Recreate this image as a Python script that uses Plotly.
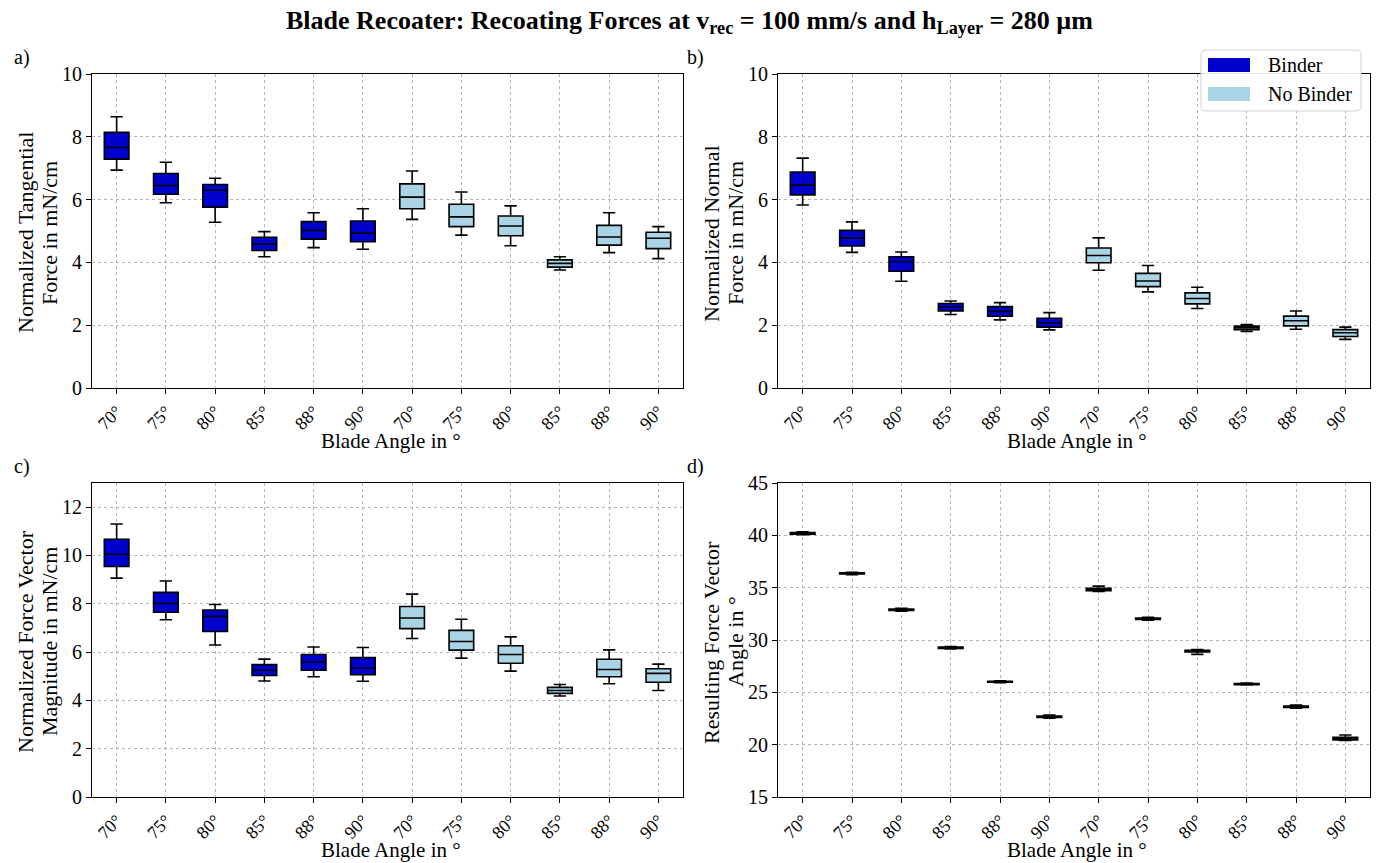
import plotly.graph_objects as go

# ---------------- data ----------------
tick_labels = ["70°", "75°", "80°", "85°", "88°", "90°",
               "70°", "75°", "80°", "85°", "88°", "90°"]
positions = list(range(1, 13))

# panel a: normalized tangential force (mN/cm)
a_lo  = [6.94, 5.90, 5.28, 4.18, 4.47, 4.42, 5.37, 4.87, 4.53, 3.76, 4.31, 4.12]
a_q1  = [7.29, 6.17, 5.76, 4.38, 4.74, 4.66, 5.71, 5.14, 4.85, 3.85, 4.55, 4.44]
a_med = [7.66, 6.45, 6.30, 4.59, 5.02, 4.93, 6.08, 5.45, 5.16, 3.97, 4.81, 4.77]
a_q3  = [8.14, 6.83, 6.48, 4.80, 5.30, 5.32, 6.50, 5.85, 5.48, 4.08, 5.18, 4.96]
a_hi  = [8.64, 7.19, 6.68, 4.98, 5.58, 5.71, 6.91, 6.24, 5.80, 4.18, 5.58, 5.14]

# panel b: normalized normal force (mN/cm)
b_lo  = [5.83, 4.32, 3.40, 2.34, 2.17, 1.85, 3.75, 3.06, 2.53, 1.80, 1.87, 1.55]
b_q1  = [6.15, 4.52, 3.72, 2.45, 2.29, 1.94, 3.99, 3.23, 2.68, 1.86, 1.98, 1.64]
b_med = [6.46, 4.78, 4.02, 2.58, 2.44, 2.08, 4.22, 3.41, 2.85, 1.92, 2.14, 1.76]
b_q3  = [6.88, 5.02, 4.18, 2.69, 2.59, 2.22, 4.46, 3.65, 3.03, 1.97, 2.29, 1.86]
b_hi  = [7.32, 5.29, 4.33, 2.77, 2.72, 2.40, 4.78, 3.90, 3.21, 2.02, 2.45, 1.94]

# panel c: normalized force vector magnitude (mN/cm)
c_lo  = [9.06, 7.34, 6.29, 4.80, 4.98, 4.79, 6.56, 5.75, 5.21, 4.18, 4.69, 4.41]
c_q1  = [9.54, 7.65, 6.85, 5.03, 5.25, 5.06, 6.97, 6.08, 5.54, 4.29, 4.98, 4.75]
c_med = [10.05, 8.01, 7.48, 5.25, 5.59, 5.34, 7.41, 6.44, 5.90, 4.41, 5.28, 5.12]
c_q3  = [10.67, 8.47, 7.74, 5.48, 5.90, 5.77, 7.89, 6.90, 6.26, 4.54, 5.70, 5.31]
c_hi  = [11.30, 8.94, 7.97, 5.71, 6.21, 6.19, 8.40, 7.36, 6.63, 4.66, 6.09, 5.50]

# panel d: resulting force vector angle (°)
d_lo  = [40.05, 36.25, 32.75, 29.15, 25.93, 22.52, 34.65, 31.90, 28.63, 25.70, 23.48, 20.40]
d_q1  = [40.10, 36.31, 32.82, 29.20, 25.97, 22.60, 34.72, 31.96, 28.85, 25.74, 23.55, 20.45]
d_med = [40.19, 36.37, 32.89, 29.26, 26.01, 22.67, 34.84, 32.03, 28.94, 25.79, 23.63, 20.57]
d_q3  = [40.27, 36.42, 32.96, 29.32, 26.05, 22.74, 34.95, 32.10, 29.02, 25.84, 23.70, 20.70]
d_hi  = [40.33, 36.48, 33.02, 29.37, 26.09, 22.82, 35.15, 32.16, 29.08, 25.88, 23.78, 20.92]

groups = ["Binder", "No Binder"]
group_colors = {"Binder": "#0000CD", "No Binder": "#A8D4E6"}

title_text = ("<b>Blade Recoater: Recoating Forces at v<sub>rec</sub> = 100 mm/s "
              "and h<sub>Layer</sub> = 280 µm</b>")
y_titles = [["Normalized Tangential", "Force in mN/cm"],
            ["Normalized Normal", "Force in mN/cm"],
            ["Normalized Force Vector", "Magnitude in mN/cm"],
            ["Resulting Force Vector", "Angle in °"]]
x_title = "Blade Angle in °"
panel_letters = ["a)", "b)", "c)", "d)"]

# ---------------- figure ----------------
W, H = 1378, 863
FONT = "Liberation Serif, Times New Roman, serif"

panels = [
    (a_lo, a_q1, a_med, a_q3, a_hi),
    (b_lo, b_q1, b_med, b_q3, b_hi),
    (c_lo, c_q1, c_med, c_q3, c_hi),
    (d_lo, d_q1, d_med, d_q3, d_hi),
]
y_ranges = [[0, 10], [0, 10], [0, 13], [15, 45]]
y_dticks = [2, 2, 2, 5]

# pixel layout
x_doms_px = [(92, 683), (778, 1370)]
y_doms_px = [(74, 388), (483, 797)]


def px_x(v):
    return v / W


def px_y(v):
    return 1 - v / H


fig = go.Figure()

for i, (lo, q1, med, q3, hi) in enumerate(panels):
    axn = "" if i == 0 else str(i + 1)
    for g_idx, g in enumerate(groups):
        sl = slice(0, 6) if g_idx == 0 else slice(6, 12)
        fig.add_trace(go.Box(
            x=positions[sl],
            lowerfence=lo[sl], q1=q1[sl], median=med[sl], q3=q3[sl],
            upperfence=hi[sl],
            width=0.5, whiskerwidth=0.5,
            fillcolor=group_colors[g],
            line=dict(color="black", width=1.6),
            boxpoints=False,
            name=g, showlegend=False,
            xaxis="x" + axn, yaxis="y" + axn,
        ))

layout = dict(
    width=W, height=H,
    margin=dict(l=0, r=0, t=0, b=0, autoexpand=False),
    paper_bgcolor="white", plot_bgcolor="white",
    font=dict(family=FONT, size=18, color="black"),
    boxmode="overlay",
    showlegend=False,
)

annotations = [
    dict(text=title_text, x=0.5, y=px_y(22), xref="paper", yref="paper",
         xanchor="center", yanchor="middle", showarrow=False,
         font=dict(size=26, family=FONT)),
]

for i in range(4):
    axn = "" if i == 0 else str(i + 1)
    col = i % 2
    row = i // 2
    x0, x1 = x_doms_px[col]
    y0, y1 = y_doms_px[row]
    layout["xaxis" + axn] = dict(
        domain=[px_x(x0), px_x(x1)],
        anchor="y" + axn,
        automargin=False,
        range=[0.5, 12.5],
        tickmode="array", tickvals=positions, ticktext=tick_labels,
        tickangle=-45,
        ticks="outside", ticklen=5, tickcolor="black",
        showline=True, linecolor="black", linewidth=1.2, mirror=True,
        showgrid=True, gridcolor="#b5b5b5", griddash="dot", gridwidth=1,
        zeroline=False,
        tickfont=dict(size=18, family=FONT),
    )
    layout["yaxis" + axn] = dict(
        domain=[px_y(y1), px_y(y0)],
        anchor="x" + axn,
        automargin=False,
        range=y_ranges[i], dtick=y_dticks[i], tick0=0,
        ticks="outside", ticklen=5, tickcolor="black",
        showline=True, linecolor="black", linewidth=1.2, mirror=True,
        showgrid=True, gridcolor="#b5b5b5", griddash="dot", gridwidth=1,
        zeroline=False,
        tickfont=dict(size=20, family=FONT),
    )
    # x-axis title
    annotations.append(dict(text=x_title, x=px_x((x0 + x1) / 2 + 3), y=px_y(y1 + 53),
                            xref="paper", yref="paper", xanchor="center", yanchor="middle",
                            showarrow=False, font=dict(size=21, family=FONT)))
    # y-axis title, two rotated lines
    ycen = (y0 + y1) / 2 + 2
    for k, line in enumerate(y_titles[i]):
        cx = x0 - 67 + k * 24
        annotations.append(dict(text=line, x=px_x(cx), y=px_y(ycen),
                                xref="paper", yref="paper", xanchor="center", yanchor="middle",
                                textangle=-90, showarrow=False,
                                font=dict(size=22, family=FONT)))

fig.update_layout(**layout)

letter_pos = [(12, 57), (685, 57), (12, 466), (685, 466)]
for lt, (px, py) in zip(panel_letters, letter_pos):
    annotations.append(dict(text=lt, x=px_x(px), y=px_y(py), xref="paper", yref="paper",
                            xanchor="left", yanchor="middle", showarrow=False,
                            font=dict(size=20, family=FONT)))

# legend drawn by hand (matplotlib-like, rounded frame)
lx0, lx1, ly0, ly1, r = 1201, 1361, 50, 111, 5


def P(x, y):
    return f"{px_x(x):.6f},{px_y(y):.6f}"


legend_path = (f"M {P(lx0 + r, ly0)} L {P(lx1 - r, ly0)} Q {P(lx1, ly0)} {P(lx1, ly0 + r)} "
               f"L {P(lx1, ly1 - r)} Q {P(lx1, ly1)} {P(lx1 - r, ly1)} "
               f"L {P(lx0 + r, ly1)} Q {P(lx0, ly1)} {P(lx0, ly1 - r)} "
               f"L {P(lx0, ly0 + r)} Q {P(lx0, ly0)} {P(lx0 + r, ly0)} Z")
shapes = [
    dict(type="path", xref="paper", yref="paper", path=legend_path,
         fillcolor="rgba(255,255,255,0.9)", line=dict(color="#d0d0d0", width=1),
         layer="above"),
]
leg_rows = [("Binder", 65), ("No Binder", 94)]
for g, cy in leg_rows:
    shapes.append(dict(type="rect", xref="paper", yref="paper",
                       x0=px_x(1208), x1=px_x(1250), y0=px_y(cy + 7), y1=px_y(cy - 7),
                       fillcolor=group_colors[g], line=dict(width=0), layer="above"))
    annotations.append(dict(text=g, x=px_x(1266), y=px_y(cy), xref="paper", yref="paper",
                            xanchor="left", yanchor="middle", showarrow=False,
                            font=dict(size=20, family=FONT)))

fig.update_layout(annotations=annotations, shapes=shapes)

fig.write_html("out.html")
